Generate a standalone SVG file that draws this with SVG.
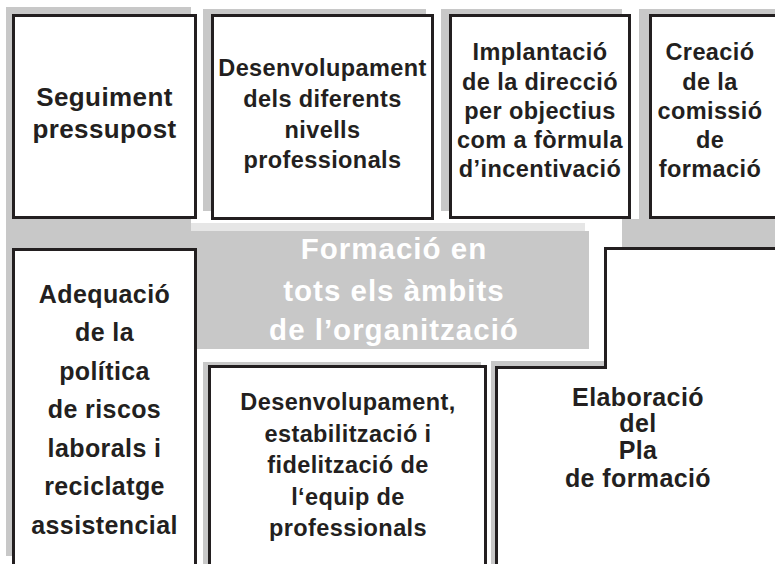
<svg xmlns="http://www.w3.org/2000/svg" width="775" height="564" viewBox="0 0 775 564">
<style>
.sh{fill:#c8c8c8}
.lt{fill:#e6e6e6}
.bx{fill:#ffffff;stroke:#231f20;stroke-width:3}
.t{font-family:"Liberation Sans",Arial,Helvetica,sans-serif;font-weight:bold;font-size:23.5px;fill:#231f20;text-anchor:middle;letter-spacing:0.4px}
.big{font-size:26px;letter-spacing:0.4px}
.mid{font-size:25px}
.c{font-family:"Liberation Sans",Arial,Helvetica,sans-serif;font-weight:bold;font-size:29.5px;fill:#ffffff;text-anchor:middle;letter-spacing:1px}
</style>
<rect width="775" height="564" fill="#ffffff"/>
<g id="backdrop">
<rect class="sh" x="6" y="7" width="185" height="549"/>
<rect class="lt" x="191" y="223" width="394" height="8"/>
<rect class="sh" x="191" y="231" width="398" height="118"/>
<rect class="sh" x="203" y="9" width="223" height="202"/>
<rect class="sh" x="441" y="9" width="181" height="202"/>
<rect class="sh" x="639" y="9" width="136" height="238"/>
<rect class="sh" x="622" y="219" width="153" height="28"/>
<rect class="sh" x="203" y="362" width="278" height="202"/>
<rect class="sh" x="491" y="361" width="113" height="203"/>
</g>
<g id="center">
<text class="c" x="394" y="259">Formació en</text>
<text class="c" x="394" y="301">tots els àmbits</text>
<text class="c" x="394" y="340">de l’organització</text>
</g>
<g id="n1">
<rect class="bx" x="13.5" y="15.5" width="182" height="202"/>
<text class="t big" x="104.5" y="106">Seguiment</text>
<text class="t big" x="104.5" y="138">pressupost</text>
</g>
<g id="n2">
<rect class="bx" x="212.5" y="15.5" width="220" height="203"/>
<text class="t" x="322.5" y="76">Desenvolupament</text>
<text class="t" x="322.5" y="107">dels diferents</text>
<text class="t" x="322.5" y="137.5">nivells</text>
<text class="t" x="322.5" y="168">professionals</text>
</g>
<g id="n3">
<rect class="bx" x="450.5" y="15.5" width="179" height="202"/>
<text class="t" x="540" y="60">Implantació</text>
<text class="t" x="540" y="89.5">de la direcció</text>
<text class="t" x="540" y="119">per objectius</text>
<text class="t" x="540" y="148">com a fòrmula</text>
<text class="t" x="540" y="177">d’incentivació</text>
</g>
<g id="n4">
<rect class="bx" x="650.5" y="15.5" width="140" height="202"/>
<text class="t" x="710" y="60">Creació</text>
<text class="t" x="710" y="89.5">de la</text>
<text class="t" x="710" y="119">comissió</text>
<text class="t" x="710" y="148">de</text>
<text class="t" x="710" y="177">formació</text>
</g>
<g id="n5">
<rect class="bx" x="13.5" y="249.5" width="182" height="330"/>
<text class="t mid" x="104.5" y="303">Adequació</text>
<text class="t mid" x="104.5" y="341">de la</text>
<text class="t mid" x="104.5" y="380">política</text>
<text class="t mid" x="104.5" y="418">de riscos</text>
<text class="t mid" x="104.5" y="457">laborals i</text>
<text class="t mid" x="104.5" y="495">reciclatge</text>
<text class="t mid" x="104.5" y="534">assistencial</text>
</g>
<g id="n6">
<rect class="bx" x="209.5" y="366.5" width="276" height="220"/>
<text class="t" x="348" y="410">Desenvolupament,</text>
<text class="t" x="348" y="442">estabilització i</text>
<text class="t" x="348" y="473">fidelització de</text>
<text class="t" x="348" y="505">l‘equip de</text>
<text class="t" x="348" y="536">professionals</text>
</g>
<g id="n7">
<path class="bx" d="M496.5,590 V367.5 H605.5 V248.5 H790 V590 Z"/>
<text class="t mid" x="638" y="406">Elaboració</text>
<text class="t mid" x="638" y="432">del</text>
<text class="t mid" x="638" y="459">Pla</text>
<text class="t mid" x="638" y="487">de formació</text>
</g>
<g id="connectors"></g>
</svg>
